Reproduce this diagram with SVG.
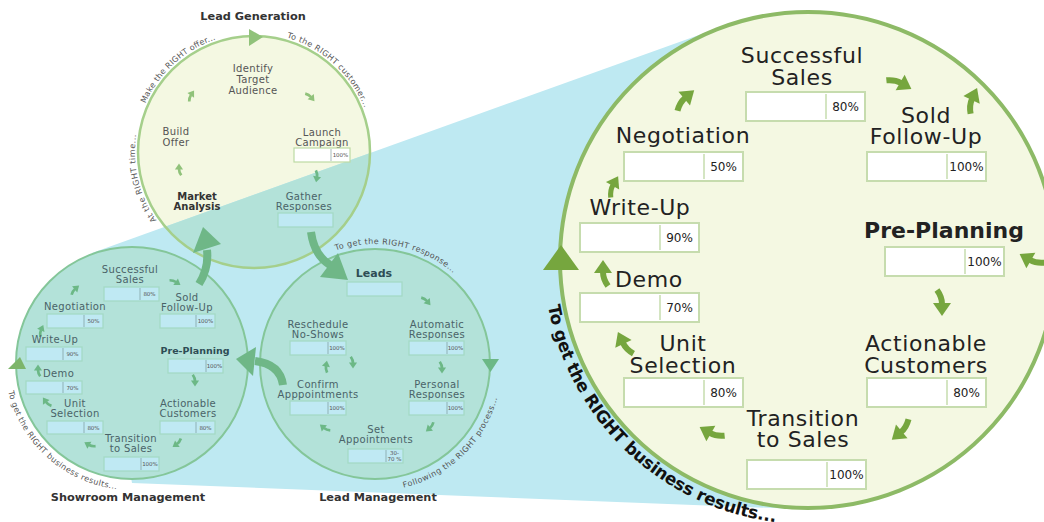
<svg xmlns="http://www.w3.org/2000/svg" width="1044" height="522" viewBox="0 0 1044 522">
<style>
.bl{font-family:"DejaVu Sans",sans-serif;font-size:22px;fill:#222;text-anchor:middle;letter-spacing:0.6px}
.blb{font-weight:bold;letter-spacing:0}
.bp{font-family:"DejaVu Sans",sans-serif;font-size:12px;fill:#222;text-anchor:middle}
.bbox{fill:#fff;stroke:#c6dcae;stroke-width:2}
.bdiv{stroke:#c6dcae;stroke-width:1.5}
.sl{font-family:"DejaVu Sans",sans-serif;font-size:10px;letter-spacing:0.35px;fill:#4a6268;text-anchor:middle}
.gen{fill:#555}
.slb{font-weight:bold;fill:#2e4d55;letter-spacing:0}
.ttl{font-family:"DejaVu Sans",sans-serif;font-size:11.3px;font-weight:bold;fill:#333;text-anchor:middle}
.sbox{fill:#bfe9f3;stroke:#a2d9c3;stroke-width:1.2}
.wbox{fill:#fff;stroke:#bcdba4;stroke-width:1.2}
.sdiv{stroke:#6f8f8f;stroke-width:0.6}
.sp{font-family:"DejaVu Sans",sans-serif;font-size:5.5px;fill:#555;text-anchor:middle}
.arc{font-family:"DejaVu Sans",sans-serif;font-size:8px;fill:#555}
.arcb{font-family:"DejaVu Sans",sans-serif;font-size:17px;font-weight:bold;fill:#111}
.ab{fill:#76a63e;stroke:#76a63e}
.ag{fill:#90c27a;stroke:#90c27a}
.at{fill:#6cb886;stroke:#6cb886}
.conn{fill:none;stroke:#6fb787;stroke-width:8}
.head{fill:#6fb787}
</style>
<defs>
  <g id="ar">
    <path d="M-14,5 Q-7,0 0,0" fill="none" stroke-width="6"/>
    <path d="M-1,-9 L12,0 L-1,9 Z" stroke="none"/>
  </g>
  <clipPath id="cone"><polygon points="92,253 724,26 798,509 132,483"/></clipPath>
  <path id="p-time" d="M156.5,220.3 A119,119 0 0 1 136.4,133.4"/>
  <path id="p-offer" d="M145.3,103.6 A119,119 0 0 1 217.2,38.8"/>
  <path id="p-cust" d="M286.8,37.6 A119,119 0 0 1 365.1,109.4"/>
  <path id="p-resp" d="M335.9,250.5 A120,120 0 0 1 455.3,274.8"/>
  <path id="p-proc" d="M403.6,487.7 A127,127 0 0 0 498.2,394.7"/>
  <path id="p-res-s" d="M8.3,391.6 A127,127 0 0 0 118.7,489.3"/>
  <path id="p-res-b" d="M548,305.8 A264,264 0 0 0 778.1,522.3"/>
</defs>

<!-- backgrounds: lead generation disc, zoom cone, stage discs -->
<circle cx="254" cy="152" r="116" fill="#f4f8e2"/>
<polygon points="92,253 724,26 798,509 132,483" fill="#bee9f2"/>
<circle cx="254" cy="152" r="116" fill="#b3e2d9" clip-path="url(#cone)"/>
<circle cx="254" cy="152" r="116" fill="none" stroke="#a5cf8b" stroke-width="2.5"/>
<circle cx="132" cy="363" r="116" fill="#b3e2d9" stroke="#84c699" stroke-width="2"/>
<circle cx="375" cy="364" r="115" fill="#b3e2d9" stroke="#84c699" stroke-width="2"/>
<circle cx="808" cy="260" r="248" fill="#f4f8e2" stroke="#8dba66" stroke-width="4"/>

<!-- cycle direction markers -->
<polygon points="249,29 249,46 263,37" fill="#90c27a"/>
<polygon points="482,359 499,359 490.5,372" fill="#6cb886"/>
<polygon points="20,357 8,369 26,369" fill="#7db56a"/>
<polygon points="561,245 543,270 579,270" fill="#76a63e"/>

<!-- cycle captions -->
<text class="arc"><textPath href="#p-time" textLength="90" lengthAdjust="spacing">At the RIGHT time...</textPath></text>
<text class="arc"><textPath href="#p-offer" textLength="98" lengthAdjust="spacing">Make the RIGHT offer...</textPath></text>
<text class="arc"><textPath href="#p-cust" textLength="108" lengthAdjust="spacing">To the RIGHT customer...</textPath></text>
<text class="arc"><textPath href="#p-resp" textLength="125" lengthAdjust="spacing">To get the RIGHT response...</textPath></text>
<text class="arc"><textPath href="#p-proc" textLength="136" lengthAdjust="spacing">Following the RIGHT process...</textPath></text>
<text class="arc"><textPath href="#p-res-s" textLength="155" lengthAdjust="spacing">To get the RIGHT business results...</textPath></text>
<text class="arcb"><textPath href="#p-res-b" textLength="336" lengthAdjust="spacing">To get the RIGHT business results...</textPath></text>

<!-- section titles -->
<text class="ttl" x="253" y="20">Lead Generation</text>
<text class="ttl" x="378" y="501">Lead Management</text>
<text class="ttl" x="128" y="501">Showroom Management</text>

<!-- connectors -->
<g id="connectors">
  <path class="conn" d="M199,284 Q209,268 207,250"/>
  <polygon class="head" points="203,227 221,244 193,253"/>
  <path class="conn" d="M311,232 Q314,255 330,265"/>
  <polygon class="head" points="320,277 338,253 348,280"/>
  <path class="conn" d="M283,385 Q280,364 255,361"/>
  <polygon class="head" points="256,347 253,376 236,359"/>

  <use href="#ar" class="ab" transform="translate(685,98) rotate(-40)"/>
  <use href="#ar" class="ab" transform="translate(901,83) rotate(30)"/>
  <use href="#ar" class="ab" transform="translate(972,99) rotate(-65)"/>
  <use href="#ar" class="ab" transform="translate(613,185) rotate(-60) scale(0.85)"/>
  <use href="#ar" class="ab" transform="translate(603,272) rotate(-90)"/>
  <use href="#ar" class="ab" transform="translate(623,343) rotate(-115)"/>
  <use href="#ar" class="ab" transform="translate(710,433) rotate(-150)"/>
  <use href="#ar" class="ab" transform="translate(901,432) rotate(140)"/>
  <use href="#ar" class="ab" transform="translate(942,304) rotate(90)"/>
  <use href="#ar" class="ab" transform="translate(1030,260) rotate(-150)"/>

  <use href="#ar" class="ag" transform="translate(191,95) rotate(-55) scale(0.45)"/>
  <use href="#ar" class="ag" transform="translate(311,97) rotate(50) scale(0.45)"/>
  <use href="#ar" class="ag" transform="translate(179,169) rotate(-90) scale(0.45)"/>
  <use href="#ar" class="at" transform="translate(317,177) rotate(100) scale(0.45)"/>

  <use href="#ar" class="at" transform="translate(427,301) rotate(50) scale(0.45)"/>
  <use href="#ar" class="at" transform="translate(442,368) rotate(90) scale(0.45)"/>
  <use href="#ar" class="at" transform="translate(430,428) rotate(140) scale(0.45)"/>
  <use href="#ar" class="at" transform="translate(324,428) rotate(-140) scale(0.45)"/>
  <use href="#ar" class="at" transform="translate(326,366) rotate(-80) scale(0.45)"/>
  <use href="#ar" class="at" transform="translate(353,363) rotate(90) scale(0.45)"/>

  <use href="#ar" class="at" transform="translate(176,282) rotate(35) scale(0.45)"/>
  <use href="#ar" class="at" transform="translate(75,289) rotate(-40) scale(0.45)"/>
  <use href="#ar" class="at" transform="translate(41,330) rotate(-65) scale(0.45)"/>
  <use href="#ar" class="at" transform="translate(38,370) rotate(-90) scale(0.45)"/>
  <use href="#ar" class="at" transform="translate(46,402) rotate(-125) scale(0.45)"/>
  <use href="#ar" class="at" transform="translate(89,445) rotate(-150) scale(0.45)"/>
  <use href="#ar" class="at" transform="translate(177,444) rotate(145) scale(0.45)"/>
  <use href="#ar" class="at" transform="translate(195,381) rotate(90) scale(0.45)"/>
</g>

<!-- lead generation stages -->
<g id="lg-identify"><text class="sl gen" x="253" y="72">Identify<tspan x="253" dy="11">Target</tspan><tspan x="253" dy="11">Audience</tspan></text></g>
<g id="lg-build"><text class="sl gen" x="176" y="135">Build<tspan x="176" dy="11">Offer</tspan></text></g>
<g id="lg-launch">
  <text class="sl gen" x="322" y="136">Launch<tspan x="322" dy="10">Campaign</tspan></text>
  <rect class="wbox" x="294" y="148" width="56" height="14"/>
  <line class="sdiv" x1="331" y1="149" x2="331" y2="161"/>
  <text class="sp" x="340.5" y="157">100%</text>
</g>
<g id="lg-market"><text class="sl slb" style="fill:#333" x="197" y="200">Market<tspan x="197" dy="10">Analysis</tspan></text></g>
<g id="lg-gather">
  <text class="sl" x="304" y="200">Gather<tspan x="304" dy="10">Responses</tspan></text>
  <rect class="sbox" x="278" y="213" width="55" height="14"/>
</g>

<!-- lead management stages -->
<g id="lm-leads">
  <text class="sl slb" style="font-size:11px" x="374" y="277">Leads</text>
  <rect class="sbox" x="347" y="282" width="55" height="14"/>
</g>
<g id="lm-reschedule">
  <text class="sl" x="318" y="328">Reschedule<tspan x="318" dy="10">No-Shows</tspan></text>
  <rect class="sbox" x="290" y="341" width="56" height="14"/>
  <line class="sdiv" x1="328" y1="342" x2="328" y2="354"/>
  <text class="sp" x="337" y="350">100%</text>
</g>
<g id="lm-automatic">
  <text class="sl" x="437" y="328">Automatic<tspan x="437" dy="10">Responses</tspan></text>
  <rect class="sbox" x="409" y="341" width="55" height="14"/>
  <line class="sdiv" x1="447" y1="342" x2="447" y2="354"/>
  <text class="sp" x="455.5" y="350">100%</text>
</g>
<g id="lm-confirm">
  <text class="sl" x="318" y="388">Confirm<tspan x="318" dy="10">Apppointments</tspan></text>
  <rect class="sbox" x="290" y="401" width="56" height="14"/>
  <line class="sdiv" x1="328" y1="402" x2="328" y2="414"/>
  <text class="sp" x="337" y="410">100%</text>
</g>
<g id="lm-personal">
  <text class="sl" x="437" y="388">Personal<tspan x="437" dy="10">Responses</tspan></text>
  <rect class="sbox" x="409" y="401" width="55" height="14"/>
  <line class="sdiv" x1="447" y1="402" x2="447" y2="414"/>
  <text class="sp" x="455.5" y="410">100%</text>
</g>
<g id="lm-set">
  <text class="sl" x="376" y="433">Set<tspan x="376" dy="10">Appointments</tspan></text>
  <rect class="sbox" x="348" y="449" width="55" height="14"/>
  <line class="sdiv" x1="386" y1="450" x2="386" y2="462"/>
  <text class="sp" x="394.5" y="455">30-<tspan x="394.5" dy="5.5">70 %</tspan></text>
</g>

<!-- showroom stages (small) -->
<g id="sr-successful">
  <text class="sl" x="130" y="273">Successful<tspan x="130" dy="10">Sales</tspan></text>
  <rect class="sbox" x="104" y="287" width="55" height="14"/>
  <line class="sdiv" x1="140" y1="288" x2="140" y2="300"/>
  <text class="sp" x="149.5" y="296">80%</text>
</g>
<g id="sr-sold">
  <text class="sl" x="187" y="301">Sold<tspan x="187" dy="9.5">Follow-Up</tspan></text>
  <rect class="sbox" x="160" y="314" width="55" height="14"/>
  <line class="sdiv" x1="196" y1="315" x2="196" y2="327"/>
  <text class="sp" x="205.5" y="323">100%</text>
</g>
<g id="sr-negotiation">
  <text class="sl" x="75" y="310">Negotiation</text>
  <rect class="sbox" x="47" y="314" width="56" height="14"/>
  <line class="sdiv" x1="84" y1="315" x2="84" y2="327"/>
  <text class="sp" x="93.5" y="323">50%</text>
</g>
<g id="sr-writeup">
  <text class="sl" x="55" y="343">Write-Up</text>
  <rect class="sbox" x="26" y="347" width="56" height="14"/>
  <line class="sdiv" x1="63" y1="348" x2="63" y2="360"/>
  <text class="sp" x="72.5" y="356">90%</text>
</g>
<g id="sr-preplanning">
  <text class="sl slb" style="font-size:9.5px" x="195" y="354">Pre-Planning</text>
  <rect class="sbox" x="168" y="359" width="55" height="14"/>
  <line class="sdiv" x1="206" y1="360" x2="206" y2="372"/>
  <text class="sp" x="214.5" y="368">100%</text>
</g>
<g id="sr-demo">
  <text class="sl" style="text-anchor:start" x="43" y="377">Demo</text>
  <rect class="sbox" x="26" y="381" width="56" height="13"/>
  <line class="sdiv" x1="63" y1="382" x2="63" y2="393"/>
  <text class="sp" x="72.5" y="389.5">70%</text>
</g>
<g id="sr-unit">
  <text class="sl" x="75" y="407">Unit<tspan x="75" dy="10">Selection</tspan></text>
  <rect class="sbox" x="47" y="421" width="56" height="13"/>
  <line class="sdiv" x1="84" y1="422" x2="84" y2="433"/>
  <text class="sp" x="93.5" y="429.5">80%</text>
</g>
<g id="sr-actionable">
  <text class="sl" x="188" y="407">Actionable<tspan x="188" dy="10">Customers</tspan></text>
  <rect class="sbox" x="160" y="421" width="55" height="13"/>
  <line class="sdiv" x1="196" y1="422" x2="196" y2="433"/>
  <text class="sp" x="205.5" y="429.5">80%</text>
</g>
<g id="sr-transition">
  <text class="sl" x="131" y="442">Transition<tspan x="131" dy="10">to Sales</tspan></text>
  <rect class="sbox" x="104" y="457" width="55" height="14"/>
  <line class="sdiv" x1="141" y1="458" x2="141" y2="470"/>
  <text class="sp" x="150" y="466">100%</text>
</g>

<!-- showroom stages (enlarged) -->
<g id="big-successful">
  <text class="bl" x="802" y="63">Successful<tspan x="802" dy="22">Sales</tspan></text>
  <rect class="bbox" x="746" y="92" width="119" height="29"/>
  <line class="bdiv" x1="826" y1="94" x2="826" y2="119"/>
  <text class="bp" x="845.5" y="111">80%</text>
</g>
<g id="big-negotiation">
  <text class="bl" x="683" y="143">Negotiation</text>
  <rect class="bbox" x="624" y="152" width="119" height="29"/>
  <line class="bdiv" x1="704" y1="154" x2="704" y2="179"/>
  <text class="bp" x="723.5" y="171">50%</text>
</g>
<g id="big-sold">
  <text class="bl" x="926" y="123">Sold<tspan x="926" dy="21">Follow-Up</tspan></text>
  <rect class="bbox" x="867" y="152" width="119" height="29"/>
  <line class="bdiv" x1="947" y1="154" x2="947" y2="179"/>
  <text class="bp" x="966.5" y="171">100%</text>
</g>
<g id="big-writeup">
  <text class="bl" x="640" y="215">Write-Up</text>
  <rect class="bbox" x="580" y="223" width="119" height="29"/>
  <line class="bdiv" x1="660" y1="225" x2="660" y2="250"/>
  <text class="bp" x="679.5" y="242">90%</text>
</g>
<g id="big-preplanning">
  <text class="bl blb" x="944" y="238">Pre-Planning</text>
  <rect class="bbox" x="885" y="247" width="119" height="29"/>
  <line class="bdiv" x1="965" y1="249" x2="965" y2="274"/>
  <text class="bp" x="984.5" y="266">100%</text>
</g>
<g id="big-demo">
  <text class="bl" style="text-anchor:start" x="615" y="287">Demo</text>
  <rect class="bbox" x="580" y="293" width="119" height="29"/>
  <line class="bdiv" x1="660" y1="295" x2="660" y2="320"/>
  <text class="bp" x="679.5" y="312">70%</text>
</g>
<g id="big-unit">
  <text class="bl" x="683" y="351">Unit<tspan x="683" dy="22">Selection</tspan></text>
  <rect class="bbox" x="624" y="378" width="119" height="29"/>
  <line class="bdiv" x1="704" y1="380" x2="704" y2="405"/>
  <text class="bp" x="723.5" y="397">80%</text>
</g>
<g id="big-actionable">
  <text class="bl" x="926" y="351">Actionable<tspan x="926" dy="22">Customers</tspan></text>
  <rect class="bbox" x="867" y="378" width="119" height="29"/>
  <line class="bdiv" x1="947" y1="380" x2="947" y2="405"/>
  <text class="bp" x="966.5" y="397">80%</text>
</g>
<g id="big-transition">
  <text class="bl" x="803" y="426">Transition<tspan x="803" dy="21">to Sales</tspan></text>
  <rect class="bbox" x="747" y="460" width="119" height="29"/>
  <line class="bdiv" x1="827" y1="462" x2="827" y2="487"/>
  <text class="bp" x="846.5" y="479">100%</text>
</g>
</svg>
